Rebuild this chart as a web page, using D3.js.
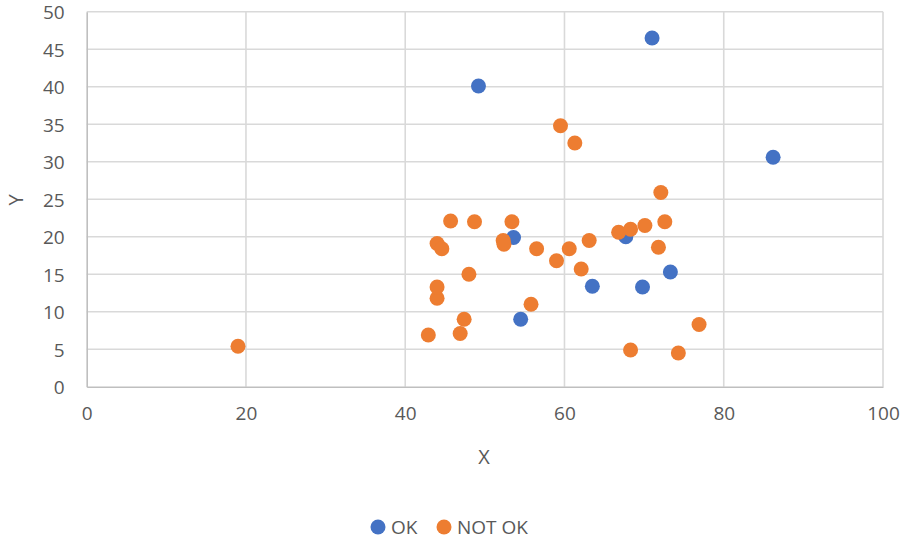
<!DOCTYPE html>
<html>
<head>
<meta charset="utf-8">
<script src="https://cdn.jsdelivr.net/npm/d3@7"></script>
<style>
  html, body { margin: 0; padding: 0; background: #fff; }
  svg { display: block; font-family: "Open Sans", "Liberation Sans", sans-serif; }
</style>
</head>
<body>
<svg id="chart" width="903" height="543"></svg>
<script>
// Series: OK
const okX = [49.2, 71.0, 86.2, 53.6, 67.7, 63.5, 69.8, 73.3, 54.5];
const okY = [40.1, 46.5, 30.6, 19.9, 20.0, 13.4, 13.3, 15.3, 9.0];

// Series: NOT OK
const notOkX = [19.0, 42.9, 46.9, 47.4, 44.0, 44.0, 48.0, 44.0, 44.6, 45.7, 48.7, 53.4,
                52.3, 52.4, 56.5, 55.8, 59.0, 59.5, 61.3, 60.6, 62.1, 63.1, 66.8, 68.3,
                70.1, 72.1, 72.6, 71.8, 76.9, 68.3, 74.3];
const notOkY = [5.4, 6.9, 7.1, 9.0, 11.8, 13.3, 15.0, 19.1, 18.4, 22.1, 22.0, 22.0,
                19.5, 19.0, 18.4, 11.0, 16.8, 34.8, 32.5, 18.4, 15.7, 19.5, 20.6, 21.0,
                21.5, 25.9, 22.0, 18.6, 8.3, 4.9, 4.5];

const xTicks = [0, 20, 40, 60, 80, 100];
const yTicks = [0, 5, 10, 15, 20, 25, 30, 35, 40, 45, 50];
const seriesNames = ["OK", "NOT OK"];
const seriesColors = ["#4472C4", "#ED7D31"];

const svg = d3.select("#chart");
const plotL = 86.7, plotR = 883, plotT = 11.7, plotB = 386.7;

const x = d3.scaleLinear().domain([0, 100]).range([plotL, plotR]);
const y = d3.scaleLinear().domain([0, 50]).range([plotB, plotT]);

// Gridlines
const grid = svg.append("g");
grid.selectAll("line.h").data(yTicks.slice(1)).join("line")
  .attr("x1", plotL).attr("x2", plotR)
  .attr("y1", d => y(d)).attr("y2", d => y(d))
  .attr("stroke", "#d9d9d9").attr("stroke-width", 1.6);
grid.selectAll("line.v").data(xTicks.slice(1)).join("line")
  .attr("y1", plotT).attr("y2", plotB)
  .attr("x1", d => x(d)).attr("x2", d => x(d))
  .attr("stroke", "#d9d9d9").attr("stroke-width", 1.6);

// Axes
const xAxis = svg.append("g").attr("transform", `translate(0,${plotB})`)
  .call(d3.axisBottom(x).tickValues(xTicks).tickSize(0).tickPadding(20));
const yAxis = svg.append("g").attr("transform", `translate(${plotL},0)`)
  .call(d3.axisLeft(y).tickValues(yTicks).tickSize(0).tickPadding(22));
[xAxis, yAxis].forEach(a => {
  a.select(".domain").attr("stroke", "#bfbfbf").attr("stroke-width", 1.6);
  a.selectAll("text").attr("fill", "#595959").attr("font-size", 19)
    .attr("font-family", "\"Open Sans\", \"Liberation Sans\", sans-serif");
});
yAxis.selectAll("text").attr("dy", "0.38em");

// Axis titles
svg.append("text").attr("x", 484).attr("y", 464).attr("text-anchor", "middle")
  .attr("fill", "#595959").attr("font-size", 20).text("X");
svg.append("text").attr("transform", "translate(23,200) rotate(-90)")
  .attr("text-anchor", "middle").attr("fill", "#595959").attr("font-size", 20).text("Y");

// Points
const series = [
  okX.map((v, i) => ({ x: v, y: okY[i] })),
  notOkX.map((v, i) => ({ x: v, y: notOkY[i] }))
];
series.forEach((pts, s) => {
  svg.append("g").selectAll("circle").data(pts).join("circle")
    .attr("cx", d => x(d.x)).attr("cy", d => y(d.y)).attr("r", 7.5)
    .attr("fill", seriesColors[s]);
});

// Legend
const legendItems = [{ cx: 378, tx: 391 }, { cx: 444, tx: 457 }];
legendItems.forEach((p, i) => {
  svg.append("circle").attr("cx", p.cx).attr("cy", 527).attr("r", 7.5).attr("fill", seriesColors[i]);
  svg.append("text").attr("x", p.tx).attr("y", 534).attr("fill", "#595959")
    .attr("font-size", 19).text(seriesNames[i]);
});
</script>
</body>
</html>
